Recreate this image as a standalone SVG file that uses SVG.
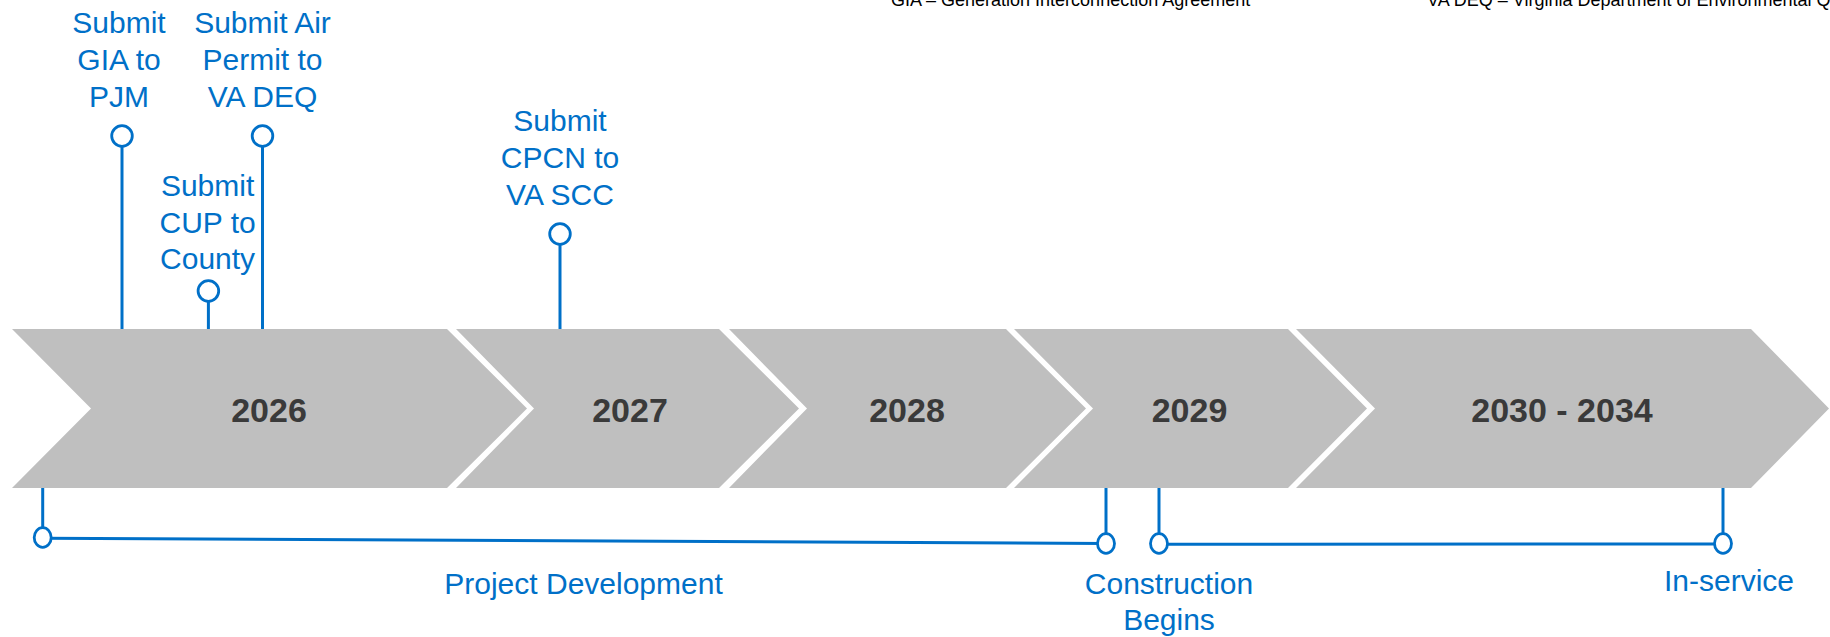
<svg xmlns="http://www.w3.org/2000/svg" width="1830" height="637" viewBox="0 0 1830 637">
<style>
.chev{fill:#BFBFBF}
.yr{font-family:"Liberation Sans",Arial,sans-serif;font-weight:bold;font-size:34px;fill:#3A3A3A;text-anchor:middle}
.lbl{font-family:"Liberation Sans",Arial,sans-serif;font-size:30px;fill:#0070C8;text-anchor:middle}
.note{font-family:"Liberation Sans",Arial,sans-serif;font-size:18px;fill:#000}
.ln{stroke:#0070C8;stroke-width:3;fill:none}
.dot{fill:#fff;stroke:#0070C8;stroke-width:2.8}
</style>
<rect width="1830" height="637" fill="#fff"/>
<g id="legend">
<text class="note" x="891" y="6">GIA – Generation Interconnection Agreement</text>
<text class="note" x="1427" y="6">VA DEQ – Virginia Department of Environmental Q</text>
</g>
<g id="chevrons">
<g id="y2026"><polygon class="chev" points="12,329 447,329 527,408.5 447,488 12,488 91,408.5"/><text class="yr" x="269" y="421.5">2026</text></g>
<g id="y2027"><polygon class="chev" points="456,329 719,329 799,408.5 719,488 456,488 534,408.5"/><text class="yr" x="630" y="421.5">2027</text></g>
<g id="y2028"><polygon class="chev" points="729,329 1006,329 1086,408.5 1006,488 729,488 807,408.5"/><text class="yr" x="907" y="421.5">2028</text></g>
<g id="y2029"><polygon class="chev" points="1014,329 1288,329 1367,408.5 1288,488 1014,488 1093,408.5"/><text class="yr" x="1189.5" y="421.5">2029</text></g>
<g id="y2030"><polygon class="chev" points="1296,329 1751,329 1829,408.5 1751,488 1296,488 1375,408.5"/><text class="yr" x="1562" y="421.5">2030 - 2034</text></g>
</g>
<g id="connectors">
<line class="ln" x1="122" y1="136" x2="122" y2="329"/>
<line class="ln" x1="262.5" y1="136" x2="262.5" y2="329"/>
<line class="ln" x1="208.4" y1="291" x2="208.4" y2="329"/>
<line class="ln" x1="560" y1="234" x2="560" y2="329"/>
<line class="ln" x1="42.7" y1="488" x2="42.7" y2="537"/>
<line class="ln" x1="1106" y1="488" x2="1106" y2="543"/>
<line class="ln" x1="1159" y1="488" x2="1159" y2="543"/>
<line class="ln" x1="1723" y1="488" x2="1723" y2="543"/>
<line class="ln" x1="42.7" y1="538.3" x2="1106" y2="543.5"/>
<line class="ln" x1="1159" y1="544.3" x2="1723" y2="544"/>
</g>
<g id="m-gia"><circle class="dot" cx="122" cy="136" r="10.3"/><text class="lbl" x="119" y="33"><tspan x="119">Submit</tspan><tspan x="119" y="70">GIA to</tspan><tspan x="119" y="107">PJM</tspan></text></g>
<g id="m-air"><circle class="dot" cx="262.5" cy="136" r="10.3"/><text class="lbl" x="262.5" y="33"><tspan x="262.5">Submit Air</tspan><tspan x="262.5" y="70">Permit to</tspan><tspan x="262.5" y="107">VA DEQ</tspan></text></g>
<g id="m-cup"><circle class="dot" cx="208.4" cy="291" r="10.3"/><text class="lbl" x="207.6" y="196"><tspan x="207.6">Submit</tspan><tspan x="207.6" y="232.5">CUP to</tspan><tspan x="207.6" y="269">County</tspan></text></g>
<g id="m-cpcn"><circle class="dot" cx="560" cy="234" r="10.3"/><text class="lbl" x="560" y="131"><tspan x="560">Submit</tspan><tspan x="560" y="168">CPCN to</tspan><tspan x="560" y="205">VA SCC</tspan></text></g>
<g id="m-pd"><ellipse class="dot" cx="42.7" cy="537.5" rx="8.5" ry="9.8"/><ellipse class="dot" cx="1106" cy="543.5" rx="8.5" ry="9.8"/><text class="lbl" x="583.5" y="594">Project Development</text></g>
<g id="m-con"><ellipse class="dot" cx="1159" cy="543.5" rx="8.5" ry="9.8"/><text class="lbl" x="1169" y="594"><tspan x="1169">Construction</tspan><tspan x="1169" y="630">Begins</tspan></text></g>
<g id="m-ins"><ellipse class="dot" cx="1723" cy="543.5" rx="8.5" ry="9.8"/><text class="lbl" x="1729" y="590.5">In-service</text></g>
</svg>
